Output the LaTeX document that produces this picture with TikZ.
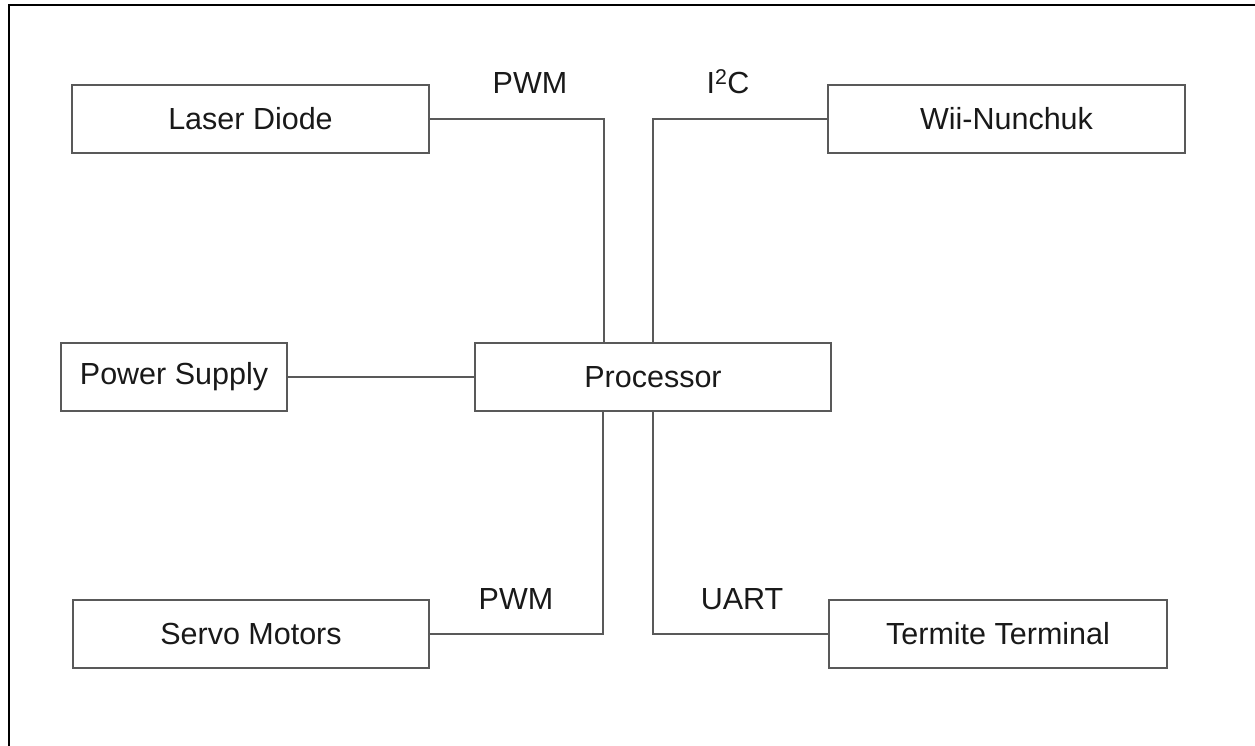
\documentclass[tikz,border=0pt]{standalone}
\usepackage{fontspec}
\setmainfont{Liberation Sans}
\tikzset{
  blk/.style={draw=black!65, line width=1.8pt, inner sep=0pt, align=center,
    font=\fontsize{30.5}{36}\selectfont, text=black!90},
  wire/.style={draw=black!65, line width=1.8pt},
  lbl/.style={inner sep=0pt, anchor=base, text=black!90, font=\fontsize{30.5}{36}\selectfont}
}
\begin{document}
\begin{tikzpicture}[x=1pt, y=-1pt]
\useasboundingbox (0,0) rectangle (1255,746);
\draw[line width=2.6pt, black] (9,760) -- (9,5) -- (1270,5);
% boxes: centre (x,y), width, height
\node[blk, minimum width=357pt, minimum height=68pt] (laser) at (250.5,119) {Laser Diode};
\node[blk, minimum width=357pt, minimum height=68pt] (wii) at (1006.5,119) {Wii-Nunchuk};
\node[blk, minimum width=226pt, minimum height=68pt] (power) at (174,377) {Power Supply};
\node[blk, minimum width=356pt, minimum height=68pt] (proc) at (653,377) {Processor};
\node[blk, minimum width=356pt, minimum height=68pt] (servo) at (251,634) {Servo Motors};
\node[blk, minimum width=338pt, minimum height=68pt] (term) at (998,634) {Termite Terminal};
% connectors
\draw[wire] (laser.east) -| ([xshift=130pt]proc.north west);
\draw[wire] (wii.west) -| ([xshift=179pt]proc.north west);
\draw[wire] (power.east) -- (proc.west);
\draw[wire] (servo.east) -| ([xshift=129pt]proc.south west);
\draw[wire] (term.west) -| ([xshift=179pt]proc.south west);
% labels
\node[lbl] (l1) at (530,94) {PWM};
\node[lbl] (l2) at (728,94) {I\textsuperscript{2}C};
\node[lbl] (l3) at (516,609) {PWM};
\node[lbl] (l4) at (742,609) {UART};
\end{tikzpicture}
\end{document}
